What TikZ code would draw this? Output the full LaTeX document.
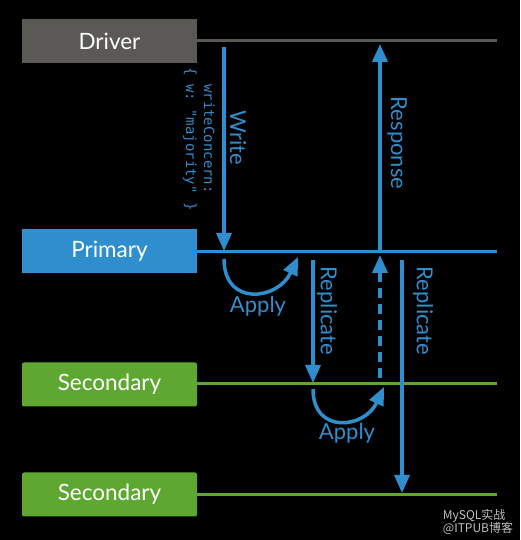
\documentclass[tikz,border=0pt]{standalone}
\usepackage{fontspec}
\setmainfont{Lato}
\setmonofont{DejaVu Sans Mono}
\newfontfamily\cjk{Noto Sans CJK SC}
\usetikzlibrary{arrows.meta}
\definecolor{drivergray}{HTML}{5B5956}
\definecolor{mongoblue}{HTML}{2E8ECE}
\definecolor{mongogreen}{HTML}{5EA832}
\tikzset{
  hostbox/.style={minimum width=175pt, minimum height=44pt, inner sep=0pt,
    text=white, font=\fontsize{22.5}{24}\selectfont},
  hostline/.style={line width=3pt},
  flow/.style={mongoblue, line width=3.5pt, -{Triangle[length=18pt,width=15pt]}},
  flowlabel/.style={text=mongoblue, rotate=-90, font=\fontsize{22}{24}\selectfont},
}
\begin{document}
\begin{tikzpicture}[x=1pt,y=1pt]
  \fill[black] (0,0) rectangle (520,540);
  % hosts and their time lines
  \node[hostbox, fill=drivergray] (driver) at (109.5,499) {Driver};
  \node[hostbox, fill=mongoblue] (primary) at (109.5,289) {Primary};
  \node[hostbox, fill=mongogreen, rounded corners=2pt] (secA) at (109.5,155.5) {Secondary};
  \node[hostbox, fill=mongogreen, rounded corners=2pt] (secB) at (109.5,45.5) {Secondary};
  \draw[hostline, drivergray] (driver.east |- 0,499) -- (497,499);
  \draw[hostline, mongoblue] (primary.east |- 0,288) -- (497,288);
  \draw[hostline, mongogreen] (secA.east |- 0,156) -- (497,156);
  \draw[hostline, mongogreen] (secB.east |- 0,45) -- (497,45);
  % end points of the messages
  \coordinate (writeA) at (224,493);
  \coordinate (writeB) at (224,289);
  \coordinate (respA) at (380,288);
  \coordinate (respB) at (380,496);
  \coordinate (applyA) at (224,281);
  \coordinate (applyB) at (298,283);
  \coordinate (replA) at (313,280);
  \coordinate (replB) at (313,157);
  \coordinate (ackA) at (380,162);
  \coordinate (ackB) at (380,285);
  \coordinate (replC) at (402,280);
  \coordinate (replD) at (402,47);
  \coordinate (applyC) at (313,151);
  \coordinate (applyD) at (384,153);
  % messages
  \draw[flow] (writeA) -- (writeB);
  \draw[flow] (respA) -- (respB);
  \draw[flow] (applyA) to[out=-90, in=245, looseness=1.65] (applyB);
  \draw[flow] (replA) -- (replB);
  \draw[flow, dash pattern=on 10pt off 6pt] (ackA) -- (ackB);
  \draw[flow] (replC) -- (replD);
  \draw[flow] (applyC) to[out=-90, in=245, looseness=1.65] (applyD);
  % labels
  \node[flowlabel] (writelbl) at (238,402) {Write};
  \node[flowlabel, font=\ttfamily\fontsize{14}{18}\selectfont, align=center]
    (concern) at (199,401) {writeConcern:\\\{ w: "majority" \}};
  \node[flowlabel] (resplbl) at (397,397) {Response};
  \node[text=mongoblue, font=\fontsize{22}{24}\selectfont] (applylblA) at (258,234) {Apply};
  \node[flowlabel] (repllblA) at (327,229) {Replicate};
  \node[flowlabel] (repllblB) at (423,229) {Replicate};
  \node[text=mongoblue, font=\fontsize{22}{24}\selectfont] (applylblB) at (347,107) {Apply};
  \node[text=white!75!black, font=\cjk\fontsize{12}{13}\selectfont, align=left]
    (mark) at (478,18) {MySQL实战\\@ITPUB博客};
\end{tikzpicture}
\end{document}
